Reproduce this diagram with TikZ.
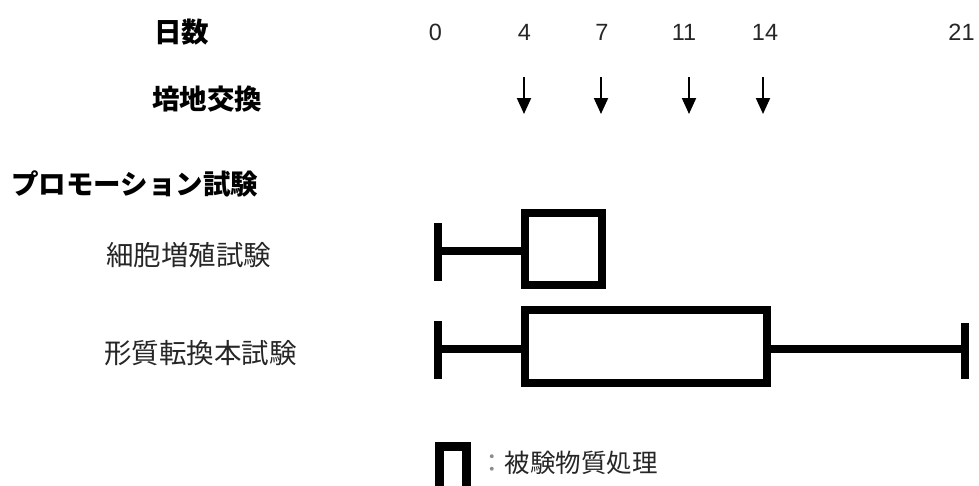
\documentclass[tikz,border=0pt]{standalone}
\usepackage{fontspec}
\setmainfont{Liberation Sans}
\newfontfamily\cjk{Noto Sans CJK JP}
\usetikzlibrary{arrows.meta}
\tikzset{
  head/.style={font=\cjk\bfseries\fontsize{27.5}{30}\selectfont, anchor=base west, inner sep=0pt, text=black},
  lab/.style={font=\cjk\fontsize{27.5}{30}\selectfont, anchor=base west, inner sep=0pt, text=black!85},
  leg/.style={font=\cjk\fontsize{25.5}{28}\selectfont, anchor=base west, inner sep=0pt, text=black!85},
  num/.style={font=\fontsize{23.5}{26}\selectfont, anchor=base, inner sep=0pt, text=black!85},
  bar/.style={line width=8pt, line cap=butt, line join=miter},
  tbox/.style={draw, line width=8pt, inner sep=0pt, outer sep=0pt, anchor=north west},
  exch/.style={line width=2pt, -{Triangle[length=16pt,width=14pt]}}
}
\begin{document}
\begin{tikzpicture}[x=1pt,y=-1pt]
\clip (0,0) rectangle (979,485);
\useasboundingbox (0,0) rectangle (979,485);
% headers
\node[head] (days) at (154,42) {日数};
\node[head] (medium) at (152,109) {培地交換};
\node[head] (promo) at (11,194) {プロモーション試験};
\node[lab] (prolif) at (106,265.5) {細胞増殖試験};
\node[lab] (transf) at (104,363.5) {形質転換本試験};
% day numbers
\node[num] (d0) at (435.5,40.5) {0};
\node[num] (d4) at (524.5,40.5) {4};
\node[num] (d7) at (602,40.5) {7};
\node[num] (d11) at (684,40.5) {11};
\node[num] (d14) at (765,40.5) {14};
\node[num] (d21) at (961.5,40.5) {21};
% medium exchange arrows
\foreach \n/\x in {a/524,b/601,c/689,d/763}{
  \coordinate (\n s) at (\x,77);
  \coordinate (\n e) at (\x,114);
  \draw[exch] (\n s) -- (\n e);
}
% row 1: cell proliferation
\coordinate (t1a) at (438.3,223);
\coordinate (t1b) at (438.3,281);
\coordinate (w1) at (438.3,251);
\draw[bar] (t1a) -- (t1b);
\node[tbox, minimum width=76.5pt, minimum height=72pt] (box1) at (525,213) {};
\draw[bar] (w1) -- (w1 -| box1.west);
% row 2: transformation
\coordinate (t2a) at (438.3,321);
\coordinate (t2b) at (438.3,379);
\coordinate (w2) at (438.3,349);
\coordinate (t3a) at (965,323);
\coordinate (t3b) at (965,379);
\coordinate (w3) at (965,349);
\draw[bar] (t2a) -- (t2b);
\draw[bar] (t3a) -- (t3b);
\node[tbox, minimum width=242pt, minimum height=73pt] (box2) at (525,310) {};
\draw[bar] (w2) -- (w2 -| box2.west);
\draw[bar] (w2 -| box2.east) -- (w3);
% legend
\node[tbox, line width=9pt, minimum width=27pt, minimum height=50pt] (legbox) at (439.5,446.5) {};
\node[leg] (legtext) at (479,472.5) {{\color{black!45}：}被験物質処理};
\end{tikzpicture}
\end{document}
